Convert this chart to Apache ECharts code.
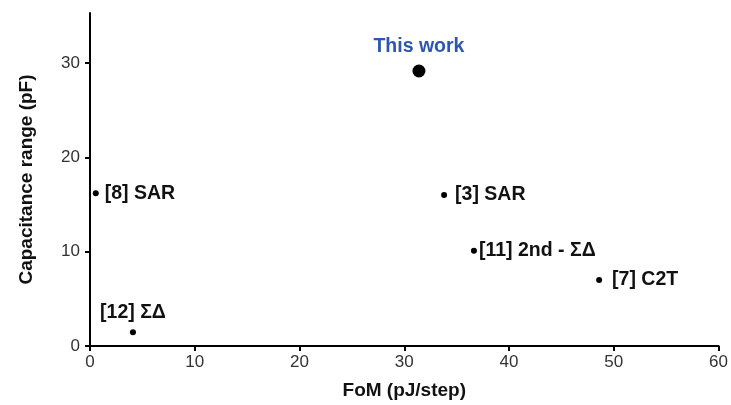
<!DOCTYPE html>
<html><head><meta charset="utf-8">
<script src="https://cdn.jsdelivr.net/npm/echarts@6/dist/echarts.min.js"></script>
<style>html,body{margin:0;padding:0;background:#fff}#c{width:731px;height:405px}</style>
</head><body><div id="c"></div>
<script>
const names = ['This work', '[8] SAR', '[3] SAR', '[11] 2nd - ΣΔ', '[7] C2T', '[12] ΣΔ'];
const fom = [31.4, 0.55, 33.8, 36.65, 48.6, 4.1];
const capRange = [29.15, 16.2, 16.0, 10.1, 7.0, 1.45];
const xTicks = [0, 10, 20, 30, 40, 50, 60];
const yTicks = [0, 10, 20, 30];

const FONT = 'Liberation Sans, Arial, sans-serif';
const labelPos = ['top', 'right', 'right', 'right', 'right', 'top'];
const labelDist = [8, 6, 8, 2, 10, 7];
const data = names.map((n, i) => ({
  value: [fom[i], capRange[i]],
  name: n,
  symbolSize: i === 0 ? 13 : 6,
  label: {
    show: true, formatter: n, position: labelPos[i], distance: labelDist[i],
    color: i === 0 ? '#2b57b0' : '#111', fontWeight: 'bold', fontSize: 19.5,
    fontFamily: FONT
  }
}));

const chart = echarts.init(document.getElementById('c'));
const axisCommon = {
  axisLine: { show: true, lineStyle: { color: '#000', width: 2 } },
  axisTick: { show: true, inside: false, length: 5, lineStyle: { color: '#000', width: 2 } },
  splitLine: { show: false },
  axisLabel: { color: '#333', fontSize: 17, fontFamily: FONT },
  nameLocation: 'middle',
  nameTextStyle: { color: '#111', fontSize: 19, fontWeight: 'bold', fontFamily: FONT }
};
chart.setOption({
  animation: false,
  grid: { left: 90, right: 4, top: 13, bottom: 56, containLabel: false },
  xAxis: Object.assign({}, axisCommon, {
    type: 'value', min: 0, max: 60, interval: 10, name: 'FoM (pJ/step)', nameGap: 35,
    axisLabel: Object.assign({}, axisCommon.axisLabel, { margin: 8, customValues: xTicks }),
    axisTick: Object.assign({}, axisCommon.axisTick, { customValues: xTicks })
  }),
  yAxis: Object.assign({}, axisCommon, {
    type: 'value', min: 0, max: 35.3, interval: 10, name: 'Capacitance range (pF)', nameGap: 54,
    axisLabel: Object.assign({}, axisCommon.axisLabel, { margin: 10, customValues: yTicks }),
    axisTick: Object.assign({}, axisCommon.axisTick, { customValues: yTicks })
  }),
  series: [{
    type: 'scatter',
    data: data,
    itemStyle: { color: '#000', opacity: 1 }
  }]
});
</script></body></html>
